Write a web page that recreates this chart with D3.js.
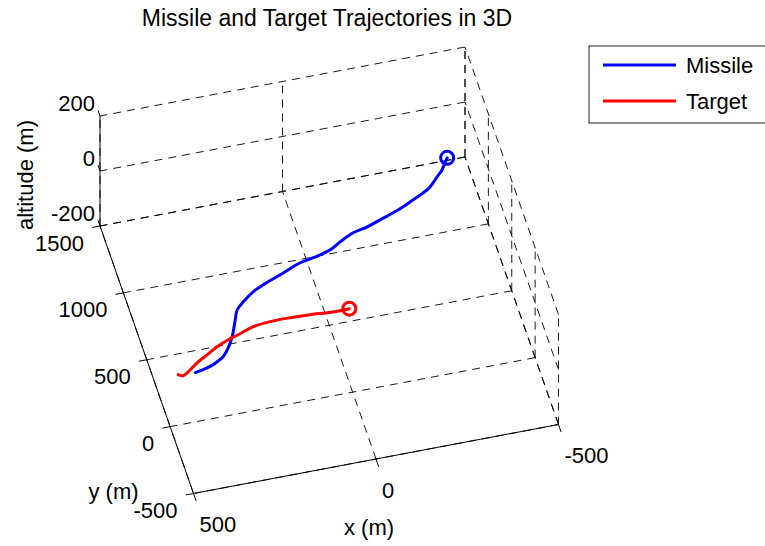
<!DOCTYPE html>
<html>
<head>
<meta charset="utf-8">
<script src="https://cdn.jsdelivr.net/npm/d3@7"></script>
<style>
  html, body { margin: 0; padding: 0; background: #fff; }
  svg { display: block; font-family: "Liberation Sans", Arial, sans-serif; }
</style>
</head>
<body>
<svg id="chart" width="765" height="546"></svg>
<script>
// Trajectory samples (metres), listed from launch (circle) to the end point
const missileX = [-404, -386, -380, -361, -334, -311, -279, -247, -216, -176, -137, -95, -54, -21, 30, 68, 130, 183, 215, 249, 272, 286, 309, 329, 350, 383, 413, 436];
const missileY = [1132, 1074, 1054, 1012, 951, 918, 883, 847, 818, 786, 754, 731, 685, 642, 609, 591, 533, 486, 450, 393, 345, 278, 163, 91, 35, -8, -30, -40];
const missileZ = [0, 0, 0, 0, 0, 0, 0, 0, 0, 0, 0, 0, 0, 0, 0, 0, 0, 0, 0, 0, 0, 0, 0, 0, 0, 0, 0, 0];

const targetX = [-17, 8, 43, 89, 143, 198, 246, 286, 322, 356, 389, 422, 453, 470, 482];
const targetY = [204, 202, 205, 214, 219, 218, 205, 173, 147, 113, 70, 27, -24, -46, -32];
const targetZ = [0, 0, 0, 0, 0, 0, 0, 0, 0, 0, 0, 0, 0, 0, 0];

// Axis limits and ticks
const xTicks = [-500, 0, 500];
const yTicks = [-500, 0, 500, 1000, 1500];
const zTicks = [-200, 0, 200];

const seriesNames = ["Missile", "Target"];
const seriesColors = ["#0000ff", "#ff0000"];

const titleText = "Missile and Target Trajectories in 3D";
const xLabel = "x (m)", yLabel = "y (m)", zLabel = "altitude (m)";

// ---- 3D -> screen (orthographic view) ----
const xDom = d3.extent(xTicks), yDom = d3.extent(yTicks), zDom = d3.extent(zTicks);
// normalised box coordinates: x runs from +500 (left/front) to -500 (right)
const sx = d3.scaleLinear().domain([xDom[1], xDom[0]]).range([0, 1]);
const sy = d3.scaleLinear().domain(yDom).range([0, 1]);
const sz = d3.scaleLinear().domain(zDom).range([0, 1]);

// screen position of the front corner and the projected box edges
const O  = [193.5, 493.5];
const EX = [365, -69];
const EY = [-93.5, -267.5];
const EZ = [0, -110];

function project(x, y, z) {
  const u = sx(x), v = sy(y), w = sz(z);
  return [O[0] + u * EX[0] + v * EY[0] + w * EZ[0],
          O[1] + u * EX[1] + v * EY[1] + w * EZ[1]];
}

const svg = d3.select("#chart");
const gGrid = svg.append("g");
const gAxes = svg.append("g");
const gData = svg.append("g");
const gText = svg.append("g");

function seg(g, a, b, cls) {
  const p = project(...a), q = project(...b);
  const l = g.append("line")
    .attr("x1", p[0]).attr("y1", p[1]).attr("x2", q[0]).attr("y2", q[1]);
  if (cls === "grid") {
    l.attr("stroke", "#000").attr("stroke-width", 0.9).attr("stroke-dasharray", "8,6");
  } else {
    l.attr("stroke", "#000").attr("stroke-width", 1);
  }
  return l;
}

const [x0, x1] = xDom, [y0, y1] = yDom, [z0, z1] = zDom;

// floor (z = min)
xTicks.forEach(t => seg(gGrid, [t, y0, z0], [t, y1, z0], "grid"));
yTicks.forEach(t => seg(gGrid, [x0, t, z0], [x1, t, z0], "grid"));
// back wall (y = max)
xTicks.forEach(t => seg(gGrid, [t, y1, z0], [t, y1, z1], "grid"));
zTicks.forEach(t => seg(gGrid, [x0, y1, t], [x1, y1, t], "grid"));
// side wall (x = min)
yTicks.forEach(t => seg(gGrid, [x0, t, z0], [x0, t, z1], "grid"));
zTicks.forEach(t => seg(gGrid, [x0, y0, t], [x0, y1, t], "grid"));

// axis lines
seg(gAxes, [x1, y0, z0], [x0, y0, z0]);   // x axis
seg(gAxes, [x1, y0, z0], [x1, y1, z0]);   // y axis
seg(gAxes, [x1, y1, z0], [x1, y1, z1]);   // z axis

function unit(v) { const n = Math.hypot(v[0], v[1]); return [v[0] / n, v[1] / n]; }
const dirX = unit([-EX[0], -EX[1]]);   // towards +x (left)
const dirYneg = unit([-EY[0], -EY[1]]); // towards -y (front)
const dirYpos = unit(EY);               // towards +y (back)
const tickLen = 8;

function tick(pt, dir, len) {
  gAxes.append("line")
    .attr("x1", pt[0]).attr("y1", pt[1])
    .attr("x2", pt[0] + dir[0] * len).attr("y2", pt[1] + dir[1] * len)
    .attr("stroke", "#000").attr("stroke-width", 1);
}

const fontSize = 22;

// x ticks and labels
xTicks.forEach(t => {
  const p = project(t, y0, z0);
  tick(p, dirYneg, tickLen);
  gText.append("text").attr("x", p[0] + 6).attr("y", p[1] + 31)
    .attr("dominant-baseline", "central").attr("text-anchor", "start")
    .attr("font-size", fontSize).text(t);
});
// y ticks and labels
yTicks.forEach(t => {
  const p = project(x1, t, z0);
  tick(p, dirX, tickLen);
  gText.append("text").attr("x", p[0] - 16).attr("y", p[1] + 17)
    .attr("dominant-baseline", "central").attr("text-anchor", "end")
    .attr("font-size", fontSize).text(t);
});
// z ticks and labels
zTicks.forEach(t => {
  const p = project(x1, y1, t);
  tick(p, dirYpos, 6);
  gText.append("text").attr("x", p[0] - 5).attr("y", p[1] - 13)
    .attr("dominant-baseline", "central").attr("text-anchor", "end")
    .attr("font-size", fontSize).text(t);
});

// axis titles
{
  const px = project(0, y0, z0);
  gText.append("text").attr("x", px[0] - 7).attr("y", px[1] + 68)
    .attr("dominant-baseline", "central").attr("text-anchor", "middle")
    .attr("font-size", fontSize).text(xLabel);
  const py = project(x1, y0, z0);
  gText.append("text").attr("x", py[0] - 80).attr("y", py[1] - 2)
    .attr("dominant-baseline", "central").attr("text-anchor", "middle")
    .attr("font-size", fontSize).text(yLabel);
  const pz = project(x1, y1, 0);
  gText.append("text")
    .attr("transform", `translate(${pz[0] - 75},${pz[1] + 4}) rotate(-90)`)
    .attr("dominant-baseline", "central").attr("text-anchor", "middle")
    .attr("font-size", fontSize).text(zLabel);
}

// title
gText.append("text").attr("x", 327).attr("y", 18)
  .attr("dominant-baseline", "central").attr("text-anchor", "middle")
  .attr("font-size", 23).text(titleText);

// trajectories
const series = [
  { xs: missileX, ys: missileY, zs: missileZ },
  { xs: targetX, ys: targetY, zs: targetZ }
];
const line = d3.line().x(d => d[0]).y(d => d[1]).curve(d3.curveCatmullRom);
series.forEach((s, i) => {
  const pts = s.xs.map((x, k) => project(x, s.ys[k], s.zs[k]));
  gData.append("path").attr("d", line(pts))
    .attr("fill", "none").attr("stroke", seriesColors[i])
    .attr("stroke-width", 3).attr("stroke-linejoin", "round").attr("stroke-linecap", "round");
  gData.append("circle").attr("cx", pts[0][0]).attr("cy", pts[0][1]).attr("r", 6.5)
    .attr("fill", "none").attr("stroke", seriesColors[i]).attr("stroke-width", 3);
});

// legend
const leg = svg.append("g");
leg.append("rect").attr("x", 589).attr("y", 46).attr("width", 190).attr("height", 77)
  .attr("fill", "#fff").attr("stroke", "#222").attr("stroke-width", 1);
seriesNames.forEach((name, i) => {
  const yy = 65 + i * 36;
  leg.append("line").attr("x1", 603).attr("x2", 676).attr("y1", yy).attr("y2", yy)
    .attr("stroke", seriesColors[i]).attr("stroke-width", 3);
  leg.append("text").attr("x", 686).attr("y", yy)
    .attr("dominant-baseline", "central").attr("font-size", fontSize).text(name);
});
</script>
</body>
</html>
